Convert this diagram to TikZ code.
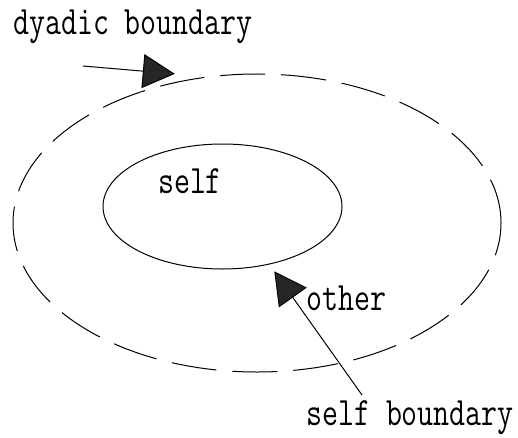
\documentclass[tikz,border=0pt]{standalone}
\usetikzlibrary{arrows.meta, shapes.geometric}
\newcommand{\tallfont}[1]{\scalebox{1}[1.3]{#1}}

\begin{document}
\begin{tikzpicture}[x=1pt, y=1pt,
    bound/.style={draw, ellipse, inner sep=0pt, outer sep=0pt, line width=1pt},
    lbl/.style={inner sep=0pt, font=\fontsize{31}{36}\selectfont\ttfamily},
    pointer/.style={-{Triangle[length=32pt, width=34pt, fill=black!85]}, line width=1pt}]
  \useasboundingbox (0,0) rectangle (518,437);
  \node[bound, dash pattern=on 45pt off 16pt,
        minimum width=488pt, minimum height=298pt] (dyad) at (257,214) {};
  \node[bound, minimum width=239pt, minimum height=125pt] (self) at (222.5,230.5) {};
  \node[lbl, anchor=base] (selflbl) at (190,244) {\tallfont{self}};
  \node[lbl, anchor=base west] (otherlbl) at (306,127) {\tallfont{other}};
  \node[lbl, anchor=base west] (dyadlbl) at (13,402) {\tallfont{dyadic boundary}};
  \node[lbl, anchor=base west] (sblbl) at (306,12) {\tallfont{self boundary}};
  \coordinate (dyadtail) at (83,371);
  \coordinate (sbtail) at (362,42);
  \draw[pointer] (dyadtail) -- ([shift={(-4pt,8pt)}]dyad.119);
  \draw[pointer, shorten >=9pt] (sbtail) -- (self.-51);
\end{tikzpicture}
\end{document}
